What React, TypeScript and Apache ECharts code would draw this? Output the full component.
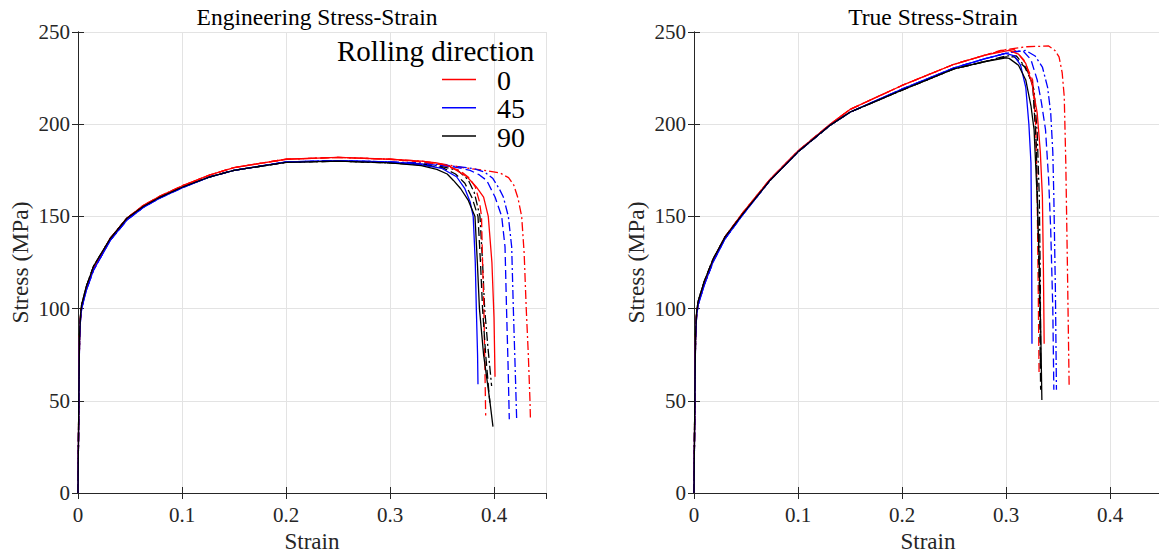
import React, { useEffect, useRef } from "react";
import * as echarts from "echarts";

// ---------- data (strain, stress MPa) ----------
const directions = ["0", "45", "90"];
const colors = ["#ff0000", "#0000ff", "#000000"];
const legendTitle = "Rolling direction";

// Engineering: shared rising part per direction
const engBase0 = [[0,0],[0.0008,50],[0.0015,85],[0.0025,96],[0.0035,101],[0.008,111],[0.015,122],[0.031,138],[0.047,149],[0.063,156],[0.079,161],[0.1,166.5],[0.127,172.5],[0.15,176.5],[0.2,181],[0.25,182],[0.3,181]];
const engBase45 = [[0,0],[0.0008,48],[0.0015,84],[0.0025,95],[0.0035,100],[0.008,110],[0.015,121],[0.031,137],[0.047,148],[0.063,155],[0.079,160],[0.1,165.5],[0.127,171.5],[0.15,175],[0.2,179.5],[0.25,180.3],[0.3,179.5]];
const engBase90 = [[0,0],[0.0008,52],[0.0015,86],[0.0025,97],[0.0035,102],[0.008,112],[0.015,123],[0.031,138],[0.047,149],[0.063,155.5],[0.079,160.5],[0.1,165.8],[0.127,171.5],[0.15,175],[0.2,179.3],[0.25,180],[0.3,179]];

const engTail0Solid = [[0.33,180],[0.345,179],[0.358,177],[0.374,171.5],[0.383,166],[0.39,160.5],[0.3945,150],[0.398,125],[0.4,95],[0.401,63]];
const engTail0Dash = [[0.33,179.5],[0.35,178],[0.367,175],[0.376,171],[0.382,166],[0.386,158],[0.388,150],[0.389,125],[0.3903,100],[0.3912,70],[0.392,42]];
const engTail0DashDot = [[0.33,180],[0.35,178.5],[0.37,176.5],[0.39,175],[0.406,173.5],[0.414,171],[0.419,167],[0.423,160],[0.4266,150],[0.429,130],[0.431,100],[0.433,75],[0.4346,50],[0.435,41]];

const engTail45Solid = [[0.33,178],[0.35,176],[0.364,171.5],[0.372,165],[0.377,158],[0.38,150],[0.382,125],[0.383,100],[0.3842,75],[0.3846,59]];
const engTail45Dash = [[0.33,178.5],[0.35,177.5],[0.365,176.5],[0.377,175],[0.386,172.5],[0.393,169.5],[0.401,160.5],[0.4074,150],[0.4106,133.5],[0.412,101],[0.4135,70],[0.4147,40]];
const engTail45DashDot = [[0.33,179],[0.35,178],[0.365,177],[0.38,176],[0.391,174],[0.399,170.5],[0.405,165],[0.409,160.5],[0.4138,150],[0.417,133.5],[0.4186,100],[0.4205,65],[0.4218,40]];

const engTail90Solid = [[0.33,177.5],[0.345,175.5],[0.355,173],[0.361,169.5],[0.368,165],[0.375,159],[0.3817,150],[0.384,125],[0.386,100],[0.39,75],[0.396,50],[0.399,36]];
const engTail90Dash = [[0.33,178],[0.35,176.5],[0.363,173],[0.372,168],[0.379,160],[0.3846,150],[0.387,125],[0.389,100],[0.392,75],[0.396,49]];
const engTail90DashDot = [[0.33,178.5],[0.35,177],[0.365,175],[0.375,170],[0.381,163],[0.3865,150],[0.389,125],[0.391,100],[0.394,80],[0.3977,58]];

// True: shared rising part per direction
const trueBase0 = [[0,0],[0.0008,50],[0.0015,85],[0.0025,97],[0.004,103],[0.01,114],[0.0185,126.5],[0.03,139],[0.047,152],[0.073,170],[0.1,185.5],[0.131,200],[0.15,208],[0.2,221],[0.25,232.5],[0.28,237.5]];
const trueBase45 = [[0,0],[0.0008,48],[0.0015,84],[0.0025,96],[0.004,102],[0.01,113],[0.0185,125.5],[0.03,138],[0.047,151],[0.073,169.5],[0.1,185],[0.131,199.5],[0.15,206.5],[0.2,219],[0.25,230.5],[0.28,235.5]];
const trueBase90 = [[0,0],[0.0008,52],[0.0015,86],[0.0025,98],[0.004,104],[0.01,115],[0.0185,127],[0.03,139],[0.047,151.5],[0.073,169.5],[0.1,185],[0.131,199.5],[0.15,206.5],[0.2,218.5],[0.25,230],[0.28,234]];

const trueTail0Solid = [[0.303,240],[0.312,238],[0.319,233],[0.325,222],[0.33,206],[0.333,185],[0.335,160.5],[0.336,120],[0.3367,81]];
const trueTail0Dash = [[0.295,240],[0.308,240.4],[0.317,235],[0.3256,224],[0.3285,200],[0.33,160.5],[0.331,110],[0.3318,65]];
const trueTail0DashDot = [[0.3,240.5],[0.32,242],[0.341,242.4],[0.347,240],[0.351,236.5],[0.354,228],[0.356,215],[0.3575,179],[0.359,125],[0.3607,58.6]];

const trueTail45Solid = [[0.3,238.4],[0.308,237],[0.314,232],[0.319,220],[0.322,200],[0.324,179],[0.3247,130],[0.325,81]];
const trueTail45Dash = [[0.3,238.5],[0.316,240],[0.324,235],[0.33,224],[0.334,212],[0.338,197],[0.341,170],[0.343,142.6],[0.345,100],[0.346,56]];
const trueTail45DashDot = [[0.3,238.5],[0.319,240],[0.328,237],[0.335,231],[0.34,220],[0.343,206],[0.345,185],[0.346,160.7],[0.3475,110],[0.3485,56]];

const trueTail90Solid = [[0.3,236],[0.303,235.7],[0.312,232],[0.319,224],[0.324,210],[0.327,197],[0.33,160],[0.332,124.6],[0.3335,85],[0.3345,50.4]];
const trueTail90Dash = [[0.3,236.5],[0.308,236.5],[0.318,231],[0.3256,222],[0.329,190],[0.331,142.6],[0.3325,95],[0.3333,56]];
const trueTail90DashDot = [[0.3,237],[0.31,237],[0.32,230],[0.327,218.6],[0.33,195],[0.332,160.7],[0.333,115],[0.3333,70.5]];

const engBases = [engBase0, engBase45, engBase90];
const engTails = [
  [engTail0Solid, engTail0Dash, engTail0DashDot],
  [engTail45Solid, engTail45Dash, engTail45DashDot],
  [engTail90Solid, engTail90Dash, engTail90DashDot],
];
const trueBases = [trueBase0, trueBase45, trueBase90];
const trueTails = [
  [trueTail0Solid, trueTail0Dash, trueTail0DashDot],
  [trueTail45Solid, trueTail45Dash, trueTail45DashDot],
  [trueTail90Solid, trueTail90Dash, trueTail90DashDot],
];

const FONT = "Liberation Serif";
const AX = "#262626";
const dashTypes: any[] = ["solid", [9, 4], [9, 3, 2, 3]];

function buildSeries(bases: number[][][], tails: number[][][][], axisIdx: number) {
  const out: any[] = [];
  for (let s = 0; s < 3; s++) {
    for (let d = 0; d < 3; d++) {
      out.push({
        type: "line",
        name: directions[d],
        xAxisIndex: axisIdx,
        yAxisIndex: axisIdx,
        data: [...bases[d], ...tails[d][s]],
        showSymbol: false,
        symbol: "none",
        smooth: false,
        z: 3 + (2 - s),
        lineStyle: { color: colors[d], width: 1.3, type: dashTypes[s] },
        itemStyle: { color: colors[d] },
      });
    }
  }
  return out;
}

function xAxes(gridIndex: number) {
  const common = { type: "value", gridIndex, min: 0, max: 0.45, interval: 0.1 };
  return [
    {
      ...common,
      position: "bottom",
      name: "Strain",
      nameLocation: "middle",
      nameGap: 31,
      nameTextStyle: { fontFamily: FONT, fontSize: 23, color: AX, lineHeight: 24 },
      axisLine: { show: true, lineStyle: { color: AX, width: 1 } },
      axisTick: { show: true, inside: true, length: 6, lineStyle: { color: AX } },
      axisLabel: {
        fontFamily: FONT, fontSize: 21, color: AX, margin: 11, showMaxLabel: false,
        formatter: (v: number) => String(Math.round(v * 10) / 10),
      },
      splitLine: { show: true, lineStyle: { color: "#e3e3e3", width: 1 } },
    },
    {
      ...common,
      position: "top",
      axisLine: { show: true, lineStyle: { color: AX, width: 1 } },
      axisTick: { show: true, inside: true, length: 6, lineStyle: { color: AX } },
      axisLabel: { show: false },
      splitLine: { show: false },
    },
  ];
}

function yAxes(gridIndex: number) {
  const common = { type: "value", gridIndex, min: 0, max: 250, interval: 50 };
  return [
    {
      ...common,
      position: "left",
      name: "Stress (MPa)",
      nameLocation: "middle",
      nameGap: 46,
      nameTextStyle: { fontFamily: FONT, fontSize: 23.5, color: AX },
      axisLine: { show: true, lineStyle: { color: AX, width: 1 } },
      axisTick: { show: true, inside: true, length: 6, lineStyle: { color: AX } },
      axisLabel: { fontFamily: FONT, fontSize: 21, color: AX, margin: 8 },
      splitLine: { show: true, lineStyle: { color: "#e3e3e3", width: 1 } },
    },
    {
      ...common,
      position: "right",
      axisLine: { show: true, lineStyle: { color: AX, width: 1 } },
      axisTick: { show: true, inside: true, length: 6, lineStyle: { color: AX } },
      axisLabel: { show: false },
      splitLine: { show: false },
    },
  ];
}

function legendGraphics() {
  const font = `28px "${FONT}", serif`;
  const g: any[] = [
    {
      type: "text",
      x: 337,
      y: 50.5,
      style: { text: legendTitle, font: `29px "${FONT}", serif`, fill: "#000", verticalAlign: "middle", align: "left" },
      z: 100,
    },
  ];
  const rowY = [80.5, 108.8, 137];
  directions.forEach((d, i) => {
    g.push({
      type: "line",
      shape: { x1: 442, y1: rowY[i] - 1, x2: 476, y2: rowY[i] - 1 },
      style: { stroke: colors[i], lineWidth: 1.6 },
      z: 100,
    });
    g.push({
      type: "text",
      x: 497,
      y: rowY[i],
      style: { text: d, font, fill: "#000", verticalAlign: "middle", align: "left" },
      z: 100,
    });
  });
  return g;
}

export default function App() {
  const ref = useRef<HTMLDivElement>(null);
  useEffect(() => {
    if (!ref.current) return;
    const chart = echarts.init(ref.current, undefined, { renderer: "svg" });
    const xa = [...xAxes(0), ...xAxes(1)];
    const ya = [...yAxes(0), ...yAxes(1)];
    const engSeries = buildSeries(engBases, engTails, 0);
    const trueSeries = buildSeries(trueBases, trueTails, 2);
    chart.setOption({
      animation: false,
      backgroundColor: "#ffffff",
      title: [
        { text: "Engineering Stress-Strain", left: 312, top: 0, textAlign: "center",
          textStyle: { fontFamily: FONT, fontSize: 23.5, fontWeight: "normal", color: "#000" } },
        { text: "True Stress-Strain", left: 928, top: 0, textAlign: "center",
          textStyle: { fontFamily: FONT, fontSize: 23.5, fontWeight: "normal", color: "#000" } },
      ],
      grid: [
        { left: 78, top: 32, width: 468, height: 461, containLabel: false, outerBoundsMode: "none" },
        { left: 694, top: 32, width: 468, height: 461, containLabel: false, outerBoundsMode: "none" },
      ],
      xAxis: xa,
      yAxis: ya,
      graphic: legendGraphics(),
      series: [...engSeries, ...trueSeries],
    });
    return () => chart.dispose();
  }, []);
  return (
    <div style={{ position: "fixed", left: 0, top: 0, width: 1159, height: 553, overflow: "hidden", background: "#fff" }}>
      <div ref={ref} style={{ width: 1170, height: 553 }} />
    </div>
  );
}
